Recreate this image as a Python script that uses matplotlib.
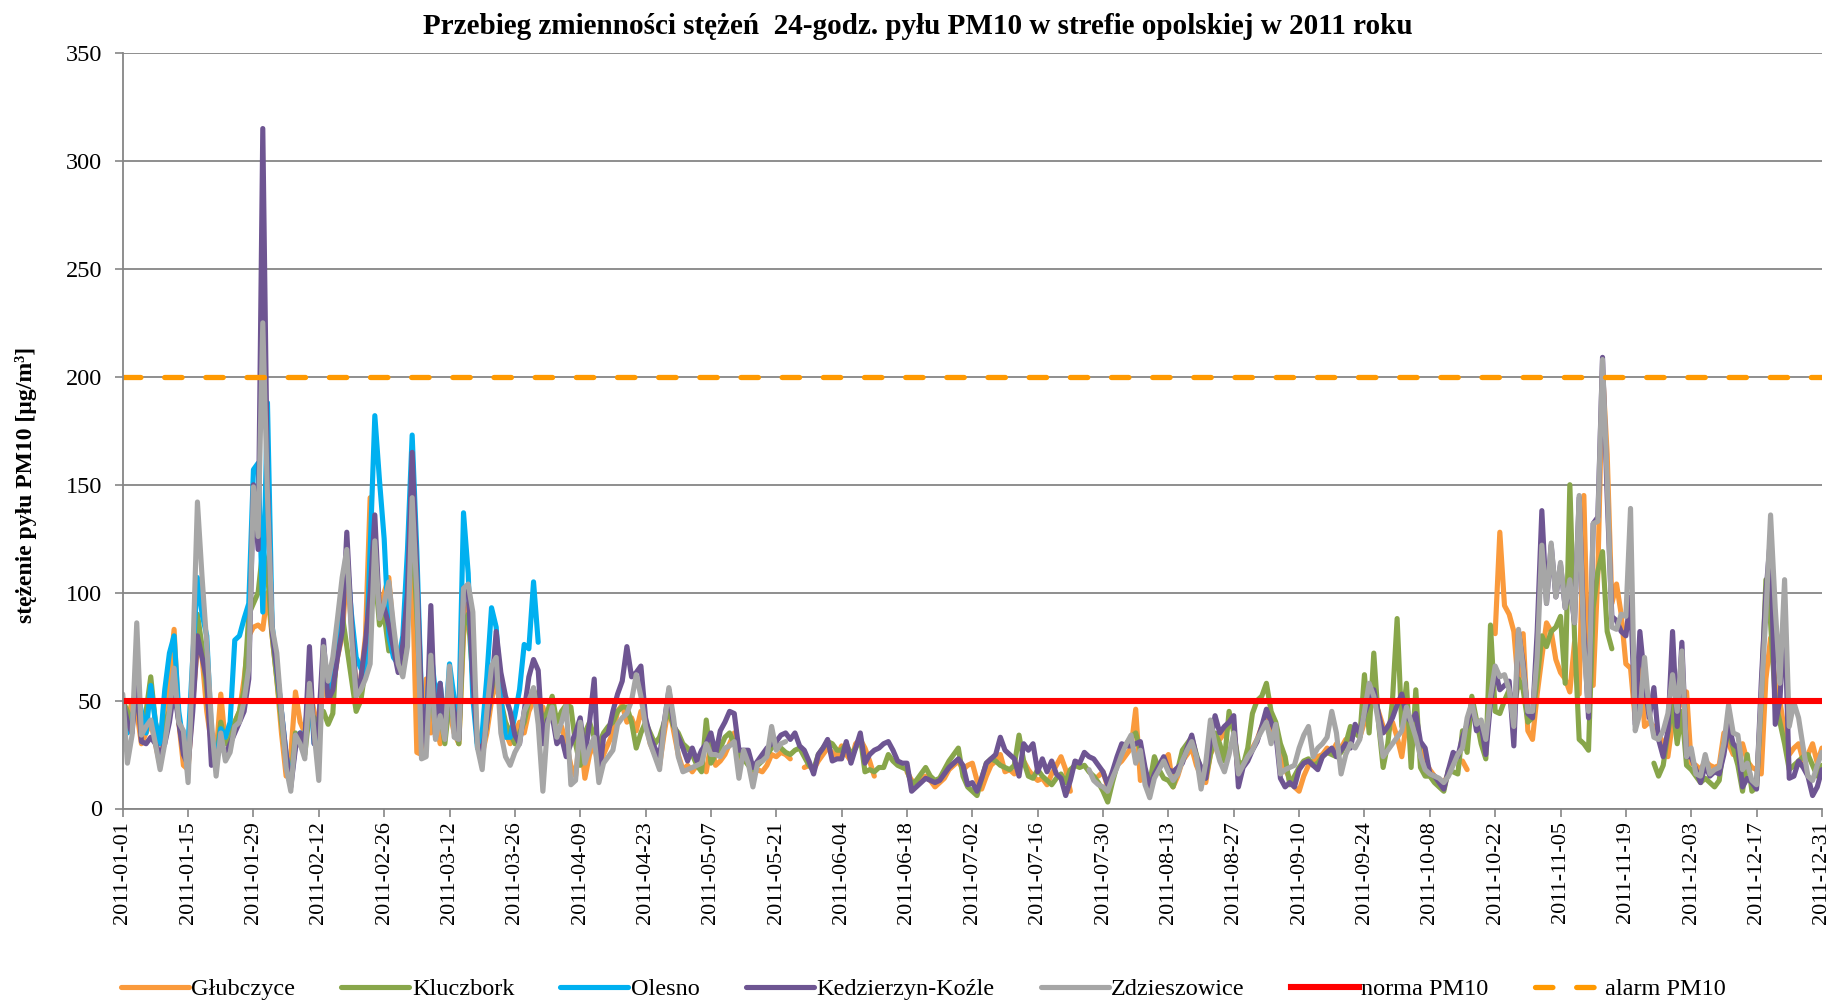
import numpy as np
import pandas as pd
import matplotlib
matplotlib.use('Agg')
import matplotlib.pyplot as plt

nan = np.nan

## Daily 24-h PM10 concentrations, 2011
days = pd.date_range('2011-01-01', '2011-12-31', freq='D')

glubczyce = [
    45, 40, 50, 45, 30, 35, 40, 30, 20, 35, 60, 83, 40, 20,
    18, 50, 75, 70, 45, 30, 25, 53, 30, 35, 40, 45, 60, 80,
    84, 85, 83, 100, 80, 60, 35, 15, 25, 54, 40, 35, 55, 45,
    35, 60, 50, 55, 70, 80, 110, 85, 55, 60, 80, 144, 120, 90,
    100, 107, 80, 70, 75, 95, 110, 26, 25, 60, 35, 40, 30, 50,
    45, 35, 30, 80, 95, 70, 30, 25, 35, 50, 60, 45, 35, 30,
    35, 40, 35, 45, 50, 48, 47, 40, 45, 35, 38, 30, 20, 15,
    35, 14, 25, 30, 18, 25, 30, 35, 45, 48, 40, 42, 36, 45,
    40, 30, 25, 20, 35, 48, 36, 25, 18, 20, 17, 20, 22, 17,
    30, 20, 22, 25, 30, 35, 20, 24, 22, 15, 18, 17, 20, 25,
    24, 26, 25, 23, nan, nan, 19, 20, 18, 22, 25, 28, 26, 24,
    29, 25, 22, 30, 32, 28, 22, 15, nan, nan, nan, nan, nan, nan,
    17, 13, 12, 14, 15, 13, 10, 12, 14, 18, 20, 22, 18, 20,
    21, 13, 9, 15, 20, 22, 25, 17, 18, 16, 20, 22, 18, 15,
    13, 14, 11, 16, 20, 24, 18, 8, nan, nan, nan, nan, nan, 15,
    17, 10, 15, 20, 22, 25, 28, 46, 13, 15, 14, 18, 20, 22,
    25, 10, 15, 22, 25, 28, 20, 15, 12, 25, 30, 32, 35, 40,
    38, 15, 20, 25, 28, 32, 38, 42, 36, 33, 28, 18, 14, 10,
    8, 15, 20, 22, 24, 25, 28, 26, 30, 28, 32, 30, 38, 33,
    40, 45, 50, 45, 38, 35, 40, 33, 24, 40, 42, 35, 28, 22,
    18, 15, 13, 12, 16, 22, nan, 22, 18, nan, nan, nan, nan, nan,
    81, 128, 94, 90, 82, 56, 81, 36, 32, 53, 70, 86, 82, 69,
    63, 60, 54, 77, 53, 145, 59, 57, 109, 203, 164, 95, 104, 90,
    67, 65, 41, 70, 38, 40, 38, 35, 30, 24, 40, 45, 50, 54,
    21, 20, 18, 22, 20, 19, 20, 35, 30, 25, 28, 30, 22, 19,
    18, 16, 60, 79, 58, 50, 35, 25, 28, 30, 22, 25, 30, 21,
    28]

kluczbork = [
    50, 45, 40, 55, 35, 45, 61, 40, 30, 40, 45, 60, 40, 28,
    22, 55, 90, 75, 55, 30, 22, 40, 30, 32, 40, 45, 55, 90,
    95, 100, 120, 110, 80, 60, 40, 22, 12, 35, 30, 25, 45, 42,
    40, 45, 39, 44, 80, 90, 75, 60, 45, 50, 65, 100, 110, 85,
    90, 73, 80, 70, 65, 90, 130, 90, 40, 35, 60, 35, 45, 30,
    50, 40, 30, 85, 90, 60, 30, 25, 40, 55, 65, 50, 40, 35,
    30, 35, 40, 50, 55, 50, 40, 45, 52, 40, 45, 48, 47, 30,
    20, 35, 40, 33, 30, 35, 38, 40, 45, 47, 47, 40, 28, 35,
    40, 35, 30, 33, 40, 45, 38, 35, 30, 28, 25, 20, 17, 41,
    21, 25, 28, 33, 35, 30, 25, 23, 20, 18, 20, 22, 25, 28,
    30, 28, 26, 25, 27, 28, 24, 20, 18, 25, 28, 31, 30, 27,
    27, 30, 25, 28, 33, 17, 18, 17, 19, 19, 25, 22, 20, 19,
    18, 11, 13, 16, 19, 15, 13, 14, 18, 22, 25, 28, 15, 10,
    8, 6, 14, 21, 23, 22, 20, 19, 18, 20, 34, 22, 15, 14,
    18, 15, 13, 11, 14, 16, 12, 18, 20, 19, 20, 17, 15, 12,
    8, 3, 12, 20, 27, 30, 33, 35, 27, 14, 12, 24, 18, 14,
    13, 10, 18, 27, 30, 33, 25, 18, 14, 25, 35, 30, 22, 45,
    35, 22, 20, 28, 44, 50, 52, 58, 45, 40, 30, 24, 11, 15,
    19, 22, 23, 20, 21, 24, 26, 25, 24, 26, 30, 38, 35, 33,
    62, 35, 72, 40, 19, 30, 50, 88, 38, 58, 19, 55, 19, 15,
    15, 12, 10, 8, 18, 17, 16, 36, 26, 52, 41, 30, 23, 85,
    45, 44, 50, 55, 44, 60, 55, 40, 42, 60, 80, 75, 82, 84,
    89, 58, 150, 80, 32, 30, 27, 93, 110, 119, 82, 74, nan, nan,
    nan, nan, nan, nan, nan, nan, 21, 15, 20, 35, 48, 30, 45, 20,
    18, 15, 12, 14, 12, 10, 13, 30, 35, 28, 20, 8, 25, 8,
    10, 50, 106, 86, 50, 40, 30, 18, 20, 22, 24, 25, 20, 15,
    20]

# Olesno only reports until the end of March
olesno = [
    45, 35, 40, 55, 45, 35, 57, 40, 30, 55, 72, 80, 45, 30,
    30, 70, 107, 90, 80, 35, 20, 37, 33, 40, 78, 80, 88, 95,
    157, 160, 91, 188, 85, 65, 45, 25, 12, 30, 35, 33, 60, 30,
    35, 70, 55, 60, 74, 95, 117, 90, 70, 65, 61, 120, 182, 152,
    125, 80, 70, 67, 80, 120, 173, 119, 51, 41, 74, 53, 58, 35,
    67, 51, 43, 137, 109, 51, 28, 35, 61, 93, 84, 51, 33, 33,
    43, 55, 76, 74, 105, 77]

kedzierzyn = [
    50, 40, 35, 60, 31, 30, 33, 30, 25, 30, 40, 55, 40, 25,
    20, 45, 80, 70, 60, 20, 22, 30, 25, 30, 35, 40, 45, 60,
    150, 120, 315, 150, 82, 65, 45, 25, 10, 28, 35, 30, 75, 30,
    40, 78, 50, 55, 70, 82, 128, 86, 55, 60, 77, 100, 136, 90,
    93, 85, 74, 63, 76, 100, 165, 109, 50, 28, 94, 33, 58, 36,
    59, 45, 32, 102, 102, 60, 30, 26, 40, 55, 82, 63, 52, 45,
    34, 30, 45, 61, 69, 64, 30, 41, 43, 30, 33, 24, 30, 35,
    42, 24, 40, 60, 14, 33, 35, 45, 53, 59, 75, 61, 63, 66,
    42, 33, 28, 24, 40, 55, 39, 33, 28, 22, 28, 22, 27, 30,
    35, 25, 36, 40, 45, 44, 27, 27, 27, 19, 22, 25, 28, 30,
    31, 34, 35, 32, 35, 29, 27, 22, 16, 25, 28, 32, 22, 23,
    23, 31, 21, 28, 35, 21, 25, 27, 28, 30, 31, 27, 22, 21,
    21, 8, 10, 12, 14, 13, 12, 13, 16, 19, 21, 23, 20, 11,
    12, 8, 14, 21, 23, 25, 33, 27, 25, 23, 15, 30, 27, 30,
    17, 23, 17, 22, 16, 14, 6, 13, 22, 21, 26, 24, 23, 20,
    17, 11, 17, 24, 30, 29, 29, 30, 31, 19, 10, 16, 20, 24,
    18, 17, 19, 21, 28, 34, 24, 19, 14, 31, 43, 35, 38, 40,
    43, 10, 19, 22, 27, 31, 38, 46, 40, 35, 14, 10, 12, 10,
    18, 21, 22, 20, 18, 24, 26, 28, 24, 27, 30, 28, 39, 35,
    44, 50, 55, 44, 35, 38, 42, 48, 53, 43, 40, 44, 31, 28,
    16, 15, 12, 9, 18, 26, 24, 33, 39, 49, 36, 39, 25, 49,
    64, 55, 57, 59, 29, 82, 67, 44, 42, 82, 138, 95, 122, 98,
    113, 93, 104, 86, 144, 82, 42, 132, 135, 209, 144, 89, 87, 82,
    80, 98, 39, 82, 60, 42, 56, 32, 24, 36, 82, 38, 77, 24,
    24, 18, 12, 20, 15, 17, 16, 25, 39, 30, 28, 10, 14, 12,
    9, 58, 100, 126, 39, 50, 90, 14, 15, 22, 19, 15, 6, 10,
    18]

# Zdzieszowice: no data from late May to late July
zdz_spring = [
    53, 21, 34, 86, 34, 38, 41, 30, 18, 30, 45, 65, 40, 36,
    12, 70, 142, 107, 76, 40, 15, 35, 22, 26, 38, 40, 50, 65,
    149, 126, 225, 145, 84, 72, 45, 19, 8, 34, 30, 23, 58, 35,
    13, 75, 59, 70, 88, 107, 120, 80, 52, 55, 60, 67, 124, 88,
    95, 105, 85, 67, 61, 75, 144, 100, 23, 24, 71, 32, 43, 32,
    66, 33, 32, 102, 104, 91, 28, 18, 45, 66, 70, 35, 24, 20,
    26, 30, 45, 50, 56, 39, 8, 39, 47, 33, 40, 48, 11, 13,
    40, 21, 28, 33, 12, 21, 24, 27, 39, 42, 44, 50, 62, 52,
    38, 30, 24, 18, 39, 56, 42, 24, 17, 18, 19, 20, 21, 30,
    25, 25, 24, 28, 29, 31, 14, 27, 21, 10, 21, 22, 24, 38,
    27, 30, 31]
zdz_autumn = [
    18, 13, 11,
    10, 8, 14, 19, 25, 30, 34, 21, 27, 11, 5, 14, 18, 22,
    17, 13, 16, 22, 27, 31, 24, 9, 21, 41, 30, 22, 17, 25,
    35, 16, 20, 24, 27, 32, 36, 40, 30, 39, 16, 18, 19, 20,
    28, 34, 38, 24, 28, 30, 33, 45, 35, 16, 25, 30, 28, 32,
    45, 58, 52, 40, 24, 27, 30, 33, 36, 47, 40, 33, 24, 18,
    16, 15, 14, 12, 15, 20, 25, 28, 42, 49, 39, 41, 32, 52,
    66, 61, 62, 55, 38, 83, 65, 45, 45, 70, 122, 95, 123, 98,
    114, 93, 106, 86, 145, 76, 45, 132, 133, 208, 152, 84, 83, 90,
    89, 139, 36, 44, 70, 45, 33, 32, 36, 44, 62, 45, 73, 24,
    28, 16, 15, 25, 16, 18, 19, 30, 48, 35, 34, 18, 21, 13,
    11, 52, 90, 136, 93, 58, 106, 38, 49, 42, 28, 15, 13, 20,
    26]
zdzieszowice = zdz_spring + [nan] * (len(days) - len(zdz_spring) - len(zdz_autumn)) + zdz_autumn

norma_pm10 = 50
alarm_pm10 = 200

series = [
    ('Głubczyce', glubczyce, '#FA9A3C'),
    ('Kluczbork', kluczbork, '#88A64A'),
    ('Olesno', olesno, '#00B0F0'),
    ('Kedzierzyn-Koźle', kedzierzyn, '#6E5592'),
    ('Zdzieszowice', zdzieszowice, '#A6A6A6'),
]

plt.rcParams['font.family'] = ['Liberation Serif', 'DejaVu Serif']

fig = plt.figure(figsize=(18.32, 10), dpi=100)
ax = fig.add_axes([0.067, 0.1915, 0.9275, 0.7555])

for name, values, color in series:
    ax.plot(days[:len(values)], values, color=color, lw=3.7, label=name,
            solid_joinstyle='round', solid_capstyle='round')

ax.axhline(norma_pm10, color='#FF0000', lw=4.4, label='norma PM10')
ax.axhline(alarm_pm10, color='#FF9900', lw=3.8, dashes=(3.3, 4.5),
           dash_capstyle='round', label='alarm PM10')

# Axes styling
ax.set_xlim(days[0], days[-1])
ax.set_ylim(0, 350)
ax.set_yticks(np.arange(0, 351, 50))
ax.set_xticks(days[::14])
ax.set_xticklabels([d.strftime('%Y-%m-%d') for d in days[::14]], rotation=90)
ax.tick_params(axis='both', labelsize=16, color='#868686', length=6, width=1.2)
ax.tick_params(axis='y', labelsize=17.5, pad=9)
ax.tick_params(axis='x', pad=3)
ax.yaxis.grid(True, color='#868686', lw=1.3)
ax.set_axisbelow(True)
for side in ['top', 'right']:
    ax.spines[side].set_visible(False)
for side in ['left', 'bottom']:
    ax.spines[side].set_color('#868686')
    ax.spines[side].set_linewidth(1.3)

fig.text(0.501, 0.974, 'Przebieg zmienności stężeń  24-godz. pyłu PM10 w strefie opolskiej w 2011 roku',
         ha='center', va='center', fontsize=21, fontweight='bold')
fig.text(0.014, 0.515, 'stężenie pyłu PM10 [µg/m³]', rotation=90,
         ha='center', va='center', fontsize=17, fontweight='bold')

fig.legend(loc='center', bbox_to_anchor=(0.504, 0.011), ncol=7, frameon=False,
           fontsize=17.5, handlelength=2.8, columnspacing=1.9, handletextpad=0.1)

fig.savefig('out.png', dpi=100)
